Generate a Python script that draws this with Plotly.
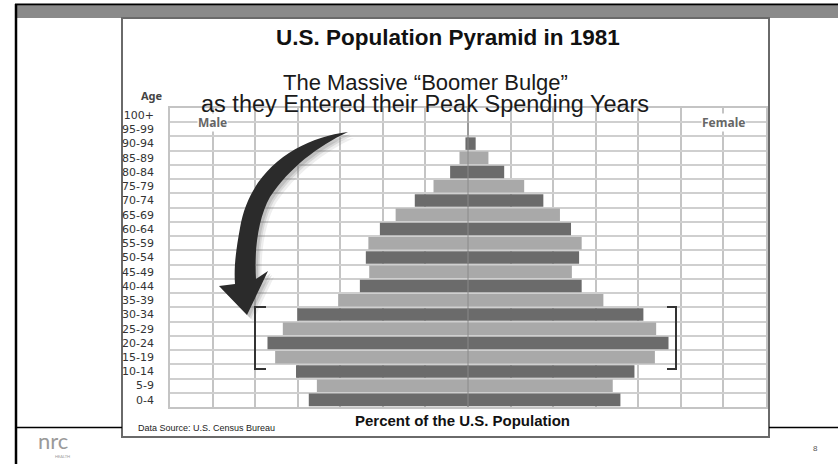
import plotly.graph_objects as go

# U.S. population by age group and sex, 1981 (percent of total population)
age_groups = ["0-4", "5-9", "10-14", "15-19", "20-24", "25-29", "30-34", "35-39",
              "40-44", "45-49", "50-54", "55-59", "60-64", "65-69", "70-74",
              "75-79", "80-84", "85-89", "90-94", "95-99", "100+"]
male_pct = [3.74, 3.55, 4.04, 4.53, 4.71, 4.35, 4.01, 3.05, 2.54, 2.32, 2.40,
            2.34, 2.07, 1.70, 1.25, 0.81, 0.42, 0.20, 0.06, 0.01, 0.0]
female_pct = [3.58, 3.40, 3.91, 4.39, 4.71, 4.42, 4.12, 3.18, 2.67, 2.44, 2.61,
              2.67, 2.42, 2.16, 1.77, 1.32, 0.85, 0.48, 0.18, 0.02, 0.0]

DARK = "#6b6b6b"
LIGHT = "#a9a9a9"
bar_colors = [DARK if i % 2 == 0 else LIGHT for i in range(len(age_groups))]

W, H = 838, 464
L, R, T, B = 170, 766, 108, 407          # plot area in pixels


def px(x):
    return (x - L) / (R - L)


def py(y):
    return (B - y) / (B - T)


def path(points_cmds):
    out = []
    for cmd, pts in points_cmds:
        coords = " ".join(f"{px(x):.5f},{py(y):.5f}" for x, y in pts)
        out.append(f"{cmd} {coords}".strip())
    return " ".join(out) + " Z"


fig = go.Figure()
fig.add_trace(go.Bar(
    y=age_groups, x=[-v for v in male_pct], orientation="h",
    marker=dict(color=bar_colors, line=dict(width=0)),
    customdata=male_pct, hovertemplate="Male %{y}: %{customdata}%<extra></extra>",
    name="Male"))
fig.add_trace(go.Bar(
    y=age_groups, x=female_pct, orientation="h",
    marker=dict(color=bar_colors, line=dict(width=0)),
    hovertemplate="Female %{y}: %{x}%<extra></extra>", name="Female"))

shapes = []
# slide decoration
shapes.append(dict(type="rect", xref="paper", yref="paper",
                   x0=px(15), x1=px(W + 2), y0=py(5.5), y1=py(18),
                   fillcolor="#8a8a8a", line=dict(width=0), layer="below"))
shapes.append(dict(type="line", xref="paper", yref="paper",
                   x0=px(15), x1=px(W + 2), y0=py(4.5), y1=py(4.5),
                   line=dict(color="#000000", width=2)))
shapes.append(dict(type="line", xref="paper", yref="paper",
                   x0=px(16), x1=px(16), y0=py(4), y1=py(H + 2),
                   line=dict(color="#000000", width=2.5)))
shapes.append(dict(type="line", xref="paper", yref="paper",
                   x0=px(16), x1=px(122), y0=py(427.5), y1=py(427.5),
                   line=dict(color="#000000", width=1.5)))
shapes.append(dict(type="line", xref="paper", yref="paper",
                   x0=px(769), x1=px(W + 2), y0=py(427.5), y1=py(427.5),
                   line=dict(color="#000000", width=1.5)))
# chart frame
shapes.append(dict(type="rect", xref="paper", yref="paper",
                   x0=px(122), x1=px(769), y0=py(18), y1=py(437),
                   fillcolor="#ffffff", line=dict(color="#6a6a6a", width=2),
                   layer="below"))
# centre line
shapes.append(dict(type="line", xref="x", yref="paper", x0=0, x1=0, y0=0, y1=1,
                   line=dict(color="#8a8a8a", width=1), layer="above"))

# curved arrow
arrow = [
    ("M", [(348, 132)]),
    ("C", [(300, 138), (250, 168), (240, 228)]),
    ("C", [(235, 255), (234, 270), (235, 284)]),
    ("L", [(219, 286)]),
    ("L", [(247, 315)]),
    ("L", [(268, 271)]),
    ("L", [(256, 279)]),
    ("C", [(254, 252), (258, 218), (270, 197)]),
    ("C", [(289, 168), (318, 146), (348, 132)]),
]
for dx, op in [(6, 0.12), (4, 0.18), (2.5, 0.25)]:
    sh = [(c, [(x + dx, y + dx) for x, y in p]) for c, p in arrow]
    shapes.append(dict(type="path", xref="paper", yref="paper", path=path(sh),
                       fillcolor="#777777", opacity=op, line=dict(width=0)))
shapes.append(dict(type="path", xref="paper", yref="paper", path=path(arrow),
                   fillcolor="#2b2b2b", line=dict(width=0)))

# brackets around the boomer cohorts
for pts in ([(266, 307), (255, 307), (255, 369), (266, 369)],
            [(667, 307), (676, 307), (676, 369), (667, 369)]):
    d = "M " + " L ".join(f"{px(x):.5f},{py(y):.5f}" for x, y in pts)
    shapes.append(dict(type="path", xref="paper", yref="paper", path=d,
                       line=dict(color="#333333", width=2)))

SANS = "Liberation Sans, Arial, sans-serif"
ann = []
ann.append(dict(x=px(448), y=py(38), xref="paper", yref="paper",
                text="<b>U.S. Population Pyramid in 1981</b>", showarrow=False,
                font=dict(family=SANS, size=22.5, color="#111111"),
                xanchor="center", yanchor="middle"))
ann.append(dict(x=px(425), y=py(82), xref="paper", yref="paper",
                text="The Massive \u201cBoomer Bulge\u201d", showarrow=False,
                font=dict(family=SANS, size=22, color="#1a1a1a"),
                xanchor="center", yanchor="middle"))
ann.append(dict(x=px(425), y=py(104), xref="paper", yref="paper",
                text="as they Entered their Peak Spending Years", showarrow=False,
                font=dict(family=SANS, size=23.5, color="#1a1a1a"),
                xanchor="center", yanchor="middle"))
ann.append(dict(x=px(152), y=py(95), xref="paper", yref="paper",
                text="<b>Age</b>", showarrow=False,
                font=dict(family="Noto Sans", size=11, color="#444444"),
                xanchor="center", yanchor="middle"))
ann.append(dict(x=-6, y=19.5, xref="x", yref="y", text="<b>Male</b>",
                showarrow=False, bgcolor="#ffffff", borderpad=0,
                font=dict(family="Noto Sans", size=12, color="#666666"),
                xanchor="center", yanchor="middle"))
ann.append(dict(x=6, y=19.5, xref="x", yref="y", text="<b>Female</b>",
                showarrow=False, bgcolor="#ffffff", borderpad=0,
                font=dict(family="Noto Sans", size=12, color="#666666"),
                xanchor="center", yanchor="middle"))
ann.append(dict(x=px(462), y=py(420), xref="paper", yref="paper",
                text="<b>Percent of the U.S. Population</b>", showarrow=False,
                font=dict(family=SANS, size=15, color="#111111"),
                xanchor="center", yanchor="middle"))
ann.append(dict(x=px(136), y=py(428), xref="paper", yref="paper",
                text="Data Source: U.S. Census Bureau", showarrow=False,
                font=dict(family=SANS, size=9, color="#222222"),
                xanchor="left", yanchor="middle"))
ann.append(dict(x=px(53), y=py(440), xref="paper", yref="paper",
                text="nrc", showarrow=False,
                font=dict(family="Lato, sans-serif", size=22, color="#9a9a9a"),
                xanchor="center", yanchor="middle"))
ann.append(dict(x=px(62), y=py(456), xref="paper", yref="paper",
                text="HEALTH", showarrow=False,
                font=dict(family="Lato, sans-serif", size=4, color="#9a9a9a"),
                xanchor="center", yanchor="middle"))
ann.append(dict(x=px(815), y=py(448), xref="paper", yref="paper",
                text="8", showarrow=False,
                font=dict(family=SANS, size=8, color="#555555"),
                xanchor="center", yanchor="middle"))

fig.update_layout(
    width=W, height=H,
    margin=dict(l=L, r=W - R, t=T, b=H - B, autoexpand=False),
    paper_bgcolor="#ffffff", plot_bgcolor="#ffffff",
    barmode="overlay", bargap=0.12, showlegend=False,
    shapes=shapes, annotations=ann,
    xaxis=dict(range=[-7, 7], dtick=1, showticklabels=False, ticks="",
               showgrid=True, gridcolor="#c4c4c4", gridwidth=1.5,
               zeroline=False, showline=True, mirror=True,
               linecolor="#c4c4c4", linewidth=1.5, fixedrange=True),
    yaxis=dict(type="category", categoryorder="array", categoryarray=age_groups,
               tickson="boundaries", ticks="", showgrid=True,
               gridcolor="#cfcfcf", gridwidth=1.5, showline=True, mirror=True,
               linecolor="#c4c4c4", linewidth=1.5, automargin=False,
               ticklabelstandoff=12,
               tickfont=dict(family="DejaVu Sans", size=11, color="#333333"),
               fixedrange=True),
)

fig.write_html("out.html")
